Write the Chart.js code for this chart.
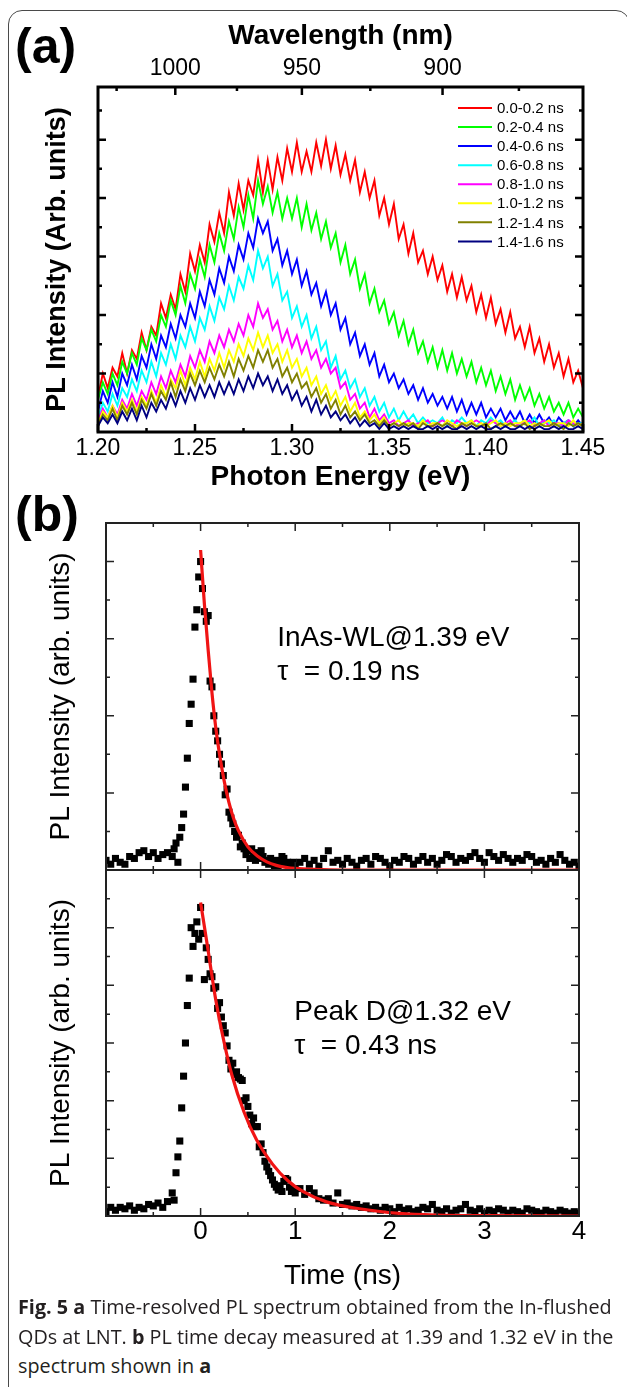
<!DOCTYPE html>
<html>
<head>
<meta charset="utf-8">
<script src="https://cdn.jsdelivr.net/npm/chart.js@4.4.1/dist/chart.umd.min.js"></script>
<style>
  html, body { margin: 0; padding: 0; background: #fff; }
  body { width: 627px; height: 1387px; position: relative; overflow: hidden;
         font-family: "Liberation Sans", Arial, sans-serif; }
  .frame { position: absolute; left: 8px; top: 10px; width: 622px; height: 1400px;
           border: 1.5px solid #4a4a4a; border-radius: 14px; box-sizing: border-box; }
  canvas { position: absolute; left: 0; }
  .tag { position: absolute; left: 15px; font-weight: bold; font-size: 50px; line-height: 50px; }
  .cap { position: absolute; left: 18px; font-family: "Open Sans", sans-serif; font-size: 19.8px;
         line-height: 29px; color: #231f20; white-space: nowrap; }
</style>
</head>
<body>
<div class="frame"></div>
<div class="tag" style="top:21px">(a)</div>
<div class="tag" style="top:489px">(b)</div>
<canvas id="specA" width="627" height="520" style="top:0px"></canvas>
<canvas id="decayWL" width="627" height="380" style="top:500px"></canvas>
<canvas id="decayD" width="627" height="440" style="top:860px"></canvas>
<div class="cap" style="top:1292px"><b>Fig. 5</b> <b>a</b> Time-resolved PL spectrum obtained from the In-flushed</div>
<div class="cap" style="top:1322px">QDs at LNT. <b>b</b> PL time decay measured at 1.39 and 1.32 eV in the</div>
<div class="cap" style="top:1351px">spectrum shown in <b>a</b></div>

<script>
// ---------- panel (a): time-resolved spectra ----------
const energy = [
  1.2000,1.2025,1.2050,1.2075,1.2100,1.2125,1.2150,1.2175,1.2200,1.2225,
  1.2250,1.2275,1.2300,1.2325,1.2350,1.2375,1.2400,1.2425,1.2450,1.2475,
  1.2500,1.2525,1.2550,1.2575,1.2600,1.2625,1.2650,1.2675,1.2700,1.2725,
  1.2750,1.2775,1.2800,1.2825,1.2850,1.2875,1.2900,1.2925,1.2950,1.2975,
  1.3000,1.3025,1.3050,1.3075,1.3100,1.3125,1.3150,1.3175,1.3200,1.3225,
  1.3250,1.3275,1.3300,1.3325,1.3350,1.3375,1.3400,1.3425,1.3450,1.3475,
  1.3500,1.3525,1.3550,1.3575,1.3600,1.3625,1.3650,1.3675,1.3700,1.3725,
  1.3750,1.3775,1.3800,1.3825,1.3850,1.3875,1.3900,1.3925,1.3950,1.3975,
  1.4000,1.4025,1.4050,1.4075,1.4100,1.4125,1.4150,1.4175,1.4200,1.4225,
  1.4250,1.4275,1.4300,1.4325,1.4350,1.4375,1.4400,1.4425,1.4450,1.4475,
  1.4500
];

const gateLabels = ['0.0-0.2 ns','0.2-0.4 ns','0.4-0.6 ns','0.6-0.8 ns',
                    '0.8-1.0 ns','1.0-1.2 ns','1.2-1.4 ns','1.4-1.6 ns'];
const gateColors = ['#ff0000','#00ff00','#0000ff','#00ffff',
                    '#ff00ff','#ffff00','#808000','#000080'];

const pl00 = [12,20,15,22,19,27,20,28,25,34, 28,36,33,44,39,47,42,54,48,61,
  55,64,58,71,65,75,68,82,74,85, 76,86,81,93,82,93,83,94,86,97,
  89,99,89,96,89,99,91,100,90,98, 88,95,86,93,82,89,80,86,74,80,
  71,78,66,71,61,68,58,62,54,60, 52,57,48,54,46,53,45,50,41,47,
  39,46,37,42,34,41,32,36,29,36, 27,32,24,30,22,27,19,25,17,21, 15];
const pl02 = [11,17,13,20,16,24,20,27,23,32, 28,35,31,40,36,45,40,50,44,54,
  49,59,53,64,58,68,62,72,66,77, 70,81,73,86,78,84,75,82,73,80,
  73,80,70,78,69,75,66,72,63,68, 58,64,54,59,49,54,44,49,41,45,
  37,41,33,38,30,35,27,31,24,29, 22,28,21,27,20,25,19,24,17,22,
  16,21,14,19,13,18,11,16,11,15, 9,13,8,12,7,10,6,10,5,8, 5];
const pl04 = [7,14,10,17,12,20,16,23,18,26, 22,30,25,33,29,37,32,40,36,44,
  39,48,43,52,47,56,51,60,55,64, 59,68,63,73,68,72,62,66,57,62,
  54,59,50,55,47,51,43,48,40,44, 35,39,30,34,26,30,23,27,19,23,
  17,20,15,18,13,16,11,15,10,13, 9,12,8,12,7,11,6,10,6,10,
  5,8,5,8,4,7,4,7,3,6, 3,6,3,5,2,5,3,4,2,4, 2];
const pl06 = [5,10,7,13,9,15,12,18,14,21, 17,24,19,27,23,30,25,33,29,36,
  31,39,35,43,38,46,42,50,45,53, 49,57,52,62,56,60,50,54,45,48,
  39,43,36,40,32,36,28,31,22,26, 18,21,15,18,12,15,9,12,7,10,
  5,8,4,7,4,6,3,5,3,4, 3,5,2,4,3,5,3,4,2,4,
  3,5,3,4,2,3,4,2,4,3, 5,2,4,3,4,2,3,4,2,3, 3];
const pl08 = [4,8,5,9,6,11,8,13,9,14, 11,17,13,19,15,21,17,23,19,26,
  22,28,24,31,27,33,29,35,31,37, 33,40,36,44,39,42,35,38,31,35,
  29,33,27,31,25,28,22,25,20,22, 15,17,11,13,8,10,5,8,4,6,
  3,4,2,3,4,2,3,3,4,2, 3,4,3,2,4,3,2,3,4,3,
  2,4,3,2,3,4,2,3,3,4, 2,3,4,2,3,3,2,4,3,2, 3];
const pl10 = [3,7,5,9,5,10,7,11,7,12, 9,14,10,16,12,18,15,21,16,22,
  18,24,19,25,21,27,22,28,24,30, 26,32,28,34,29,33,27,30,24,28,
  22,25,19,22,16,19,13,16,11,14, 9,12,7,10,5,7,4,6,3,5,
  2,3,4,2,3,3,2,4,2,3, 3,2,4,3,2,3,3,4,2,3,
  2,3,4,2,3,2,3,3,4,2, 3,2,3,4,2,3,3,2,4,2, 3];
const pl12 = [2,6,4,8,4,9,6,10,6,11, 8,13,9,14,11,17,12,18,14,20,
  16,21,17,22,18,23,19,24,19,25, 21,26,22,28,24,28,22,25,19,22,
  17,20,15,17,12,15,10,13,8,11, 6,9,5,7,4,6,3,4,2,4,
  2,3,2,3,2,3,1,3,2,2, 3,2,3,2,1,3,2,3,2,2,
  3,1,2,3,2,3,2,2,3,1, 2,3,2,2,3,2,1,3,2,3, 2];
const pl14 = [2,5,3,6,3,7,4,8,4,9, 5,10,7,11,8,13,9,14,10,15,
  11,16,12,16,12,17,13,17,13,18, 14,19,15,20,16,19,14,18,13,16,
  11,14,9,12,7,11,6,9,5,7, 4,6,3,5,2,4,2,3,1,3,
  1,2,1,2,1,2,1,1,2,1, 2,1,2,1,1,2,1,2,1,2,
  1,1,2,1,2,1,1,2,1,2, 1,2,1,1,2,1,2,1,1,2, 1];
const gateSpectra = [pl00, pl02, pl04, pl06, pl08, pl10, pl12, pl14];

const energyTicks = [1.20, 1.25, 1.30, 1.35, 1.40, 1.45];
const energyMinor = [1.225, 1.275, 1.325, 1.375, 1.425];
const wavelengthMajor = [1000, 950, 900];
const wavelengthMinor = [1025, 975, 925, 875];
const intensityMajor = [20, 40, 60, 80, 100];
const intensityMinor = [10, 30, 50, 70, 90, 110];

// ---------- panel (b): decay traces ----------
const timeNs = [
  -1.00,-0.95,-0.90,-0.85,-0.80,-0.75,-0.70,-0.65,-0.60,-0.55,-0.50,-0.45,-0.40,-0.35,
  -0.30,-0.28,-0.26,-0.24,-0.22,-0.20,-0.18,-0.16,-0.14,-0.12,-0.10,-0.08,-0.06,-0.04,-0.02,
  0.00,0.02,0.04,0.06,0.08,0.10,0.12,0.14,0.16,0.18,
  0.20,0.22,0.24,0.26,0.28,0.30,0.32,0.34,0.36,0.38,
  0.40,0.42,0.44,0.46,0.48,0.50,0.52,0.54,0.56,0.58,
  0.60,0.62,0.64,0.66,0.68,0.70,0.72,0.74,0.76,0.78,
  0.80,0.82,0.84,0.86,0.88,0.90,0.92,0.94,0.96,0.98,1.00,
  1.05,1.10,1.15,1.20,1.25,1.30,1.35,1.40,1.45,1.50,
  1.55,1.60,1.65,1.70,1.75,1.80,1.85,1.90,1.95,2.00,
  2.05,2.10,2.15,2.20,2.25,2.30,2.35,2.40,2.45,2.50,
  2.55,2.60,2.65,2.70,2.75,2.80,2.85,2.90,2.95,3.00,
  3.05,3.10,3.15,3.20,3.25,3.30,3.35,3.40,3.45,3.50,
  3.55,3.60,3.65,3.70,3.75,3.80,3.85,3.90,3.95,4.00
];
const decayWL = [
  0.25,0.15,0.3,0.2,0.15,0.35,0.3,0.45,0.5,0.35,0.45,0.3,0.4,0.45,
  0.35,0.55,0.7,0.2,0.85,1.1,1.45,2.15,2.9,3.8,4.3,4.95,6.3,6.75,7.6,
  8.0,7.3,6.7,6.45,6.6,4.9,4.75,4.0,3.6,3.35,
  3.0,2.75,2.45,1.95,2.1,1.5,1.35,1.2,1.0,0.85,
  0.9,0.6,0.7,0.55,0.4,0.5,0.3,0.55,0.35,0.25,
  0.45,0.3,0.5,0.35,0.2,0.25,0.15,0.3,0.2,0.1,
  0.25,0.1,0.2,0.35,0.3,0.15,0.2,0.1,0.15,0.2,0.1,
  0.2,0.3,0.15,0.25,0.1,0.3,0.5,0.2,0.25,0.15,
  0.3,0.2,0.1,0.25,0.3,0.15,0.35,0.3,0.2,0.1,
  0.25,0.2,0.35,0.3,0.15,0.25,0.35,0.2,0.3,0.15,
  0.25,0.4,0.35,0.2,0.3,0.25,0.35,0.45,0.3,0.2,
  0.45,0.35,0.25,0.4,0.3,0.2,0.3,0.25,0.4,0.35,
  0.2,0.25,0.15,0.3,0.2,0.4,0.25,0.15,0.2,0.1
];
const decayD = [
  0.15,0.3,0.2,0.3,0.25,0.35,0.2,0.3,0.25,0.4,0.35,0.45,0.3,0.5,
  0.8,0.55,1.5,2.05,2.6,3.75,4.85,6.0,7.3,8.25,10.0,9.35,9.8,10.2,9.6,
  10.7,9.8,8.2,9.3,8.9,8.4,8.3,7.9,7.95,7.2,
  7.4,6.9,6.6,6.35,5.9,5.4,5.1,5.3,4.9,5.0,
  4.8,4.75,4.7,4.0,4.1,3.8,3.5,3.2,3.4,3.1,
  3.1,2.4,2.5,2.2,1.9,1.7,1.55,1.4,1.25,1.1,
  1.0,0.9,1.05,0.85,1.2,1.3,1.25,1.0,0.85,0.95,0.8,
  0.95,0.75,0.95,0.8,0.6,0.55,0.6,0.45,0.8,0.4,
  0.45,0.35,0.4,0.3,0.35,0.25,0.3,0.2,0.3,0.25,
  0.15,0.3,0.2,0.25,0.15,0.2,0.3,0.25,0.4,0.2,
  0.15,0.25,0.1,0.2,0.25,0.4,0.2,0.15,0.25,0.1,
  0.2,0.15,0.25,0.2,0.1,0.2,0.15,0.1,0.25,0.2,
  0.15,0.1,0.2,0.15,0.1,0.2,0.15,0.1,0.15,0.1
];
// fitted single-exponential curves
const fitTimeWL = [0,0.04,0.08,0.12,0.16,0.2,0.25,0.3,0.35,0.4,0.5,0.6,0.7,0.8,0.9,1.0,1.2,1.5,2,3,4];
const fitWL     = [8.3,6.9,5.7,4.6,3.7,3.0,2.3,1.75,1.33,1.02,0.6,0.36,0.21,0.12,0.07,0.04,0.015,0,0,0,0];
const fitTimeD  = [0,0.08,0.16,0.25,0.33,0.46,0.59,0.76,0.92,1.08,1.33,1.68,2.1,2.5,3,4];
const fitD      = [10.87,9.2,7.5,6.0,4.9,3.6,2.65,1.8,1.23,0.85,0.49,0.25,0.09,0.03,0.01,0];

const timeTicks = [0, 1, 2, 3, 4];
const timeMinor = [-0.5, 0.5, 1.5, 2.5, 3.5];

const HC = 1239.84; // eV * nm, photon energy <-> wavelength

Chart.defaults.font.family = '"Liberation Sans", Arial, sans-serif';
Chart.defaults.color = '#000';

// inward ticks + box, drawn from the chart's own scales
const frameSpecs = {
  specA: { color: '#000', width: 3, tickWidth: 2.5, ticks: [
    { scale: 'x',  values: energyTicks, len: 8, sides: ['bottom'] },
    { scale: 'x',  values: energyMinor, len: 4, sides: ['bottom'] },
    { scale: 'x2', values: wavelengthMajor.map(w => HC / w), len: 8, sides: ['top'] },
    { scale: 'x2', values: wavelengthMinor.map(w => HC / w), len: 4, sides: ['top'] },
    { scale: 'y',  values: intensityMajor, len: 8, sides: ['left', 'right'] },
    { scale: 'y',  values: intensityMinor, len: 4, sides: ['left', 'right'] }
  ]},
  decayWL: { color: '#222', width: 2, tickWidth: 1.5, ticks: [
    { scale: 'x', values: timeTicks, len: 8, sides: ['top', 'bottom'] },
    { scale: 'x', values: timeMinor, len: 4, sides: ['top', 'bottom'] },
    { scale: 'y', values: [2, 4, 6, 8], len: 8, sides: ['left', 'right'] },
    { scale: 'y', values: [1, 3, 5, 7], len: 4, sides: ['left', 'right'] }
  ]},
  decayD: { color: '#222', width: 2, tickWidth: 1.5, ticks: [
    { scale: 'x', values: timeTicks, len: 8, sides: ['top', 'bottom'] },
    { scale: 'x', values: timeMinor, len: 4, sides: ['top', 'bottom'] },
    { scale: 'y', values: [2, 4, 6, 8, 10], len: 8, sides: ['left', 'right'] },
    { scale: 'y', values: [1, 3, 5, 7, 9, 11], len: 4, sides: ['left', 'right'] }
  ]}
};

const axisFrame = {
  id: 'axisFrame',
  afterDraw(chart) {
    const spec = frameSpecs[chart.canvas.id];
    if (!spec) return;
    const { ctx, chartArea: a } = chart;
    ctx.save();
    ctx.strokeStyle = spec.color;
    ctx.lineWidth = spec.tickWidth;
    for (const t of spec.ticks) {
      const s = chart.scales[t.scale];
      ctx.beginPath();
      for (const v of t.values) {
        const p = s.getPixelForValue(v);
        for (const side of t.sides) {
          if (side === 'top')    { ctx.moveTo(p, a.top);    ctx.lineTo(p, a.top + t.len); }
          if (side === 'bottom') { ctx.moveTo(p, a.bottom); ctx.lineTo(p, a.bottom - t.len); }
          if (side === 'left')   { ctx.moveTo(a.left, p);   ctx.lineTo(a.left + t.len, p); }
          if (side === 'right')  { ctx.moveTo(a.right, p);  ctx.lineTo(a.right - t.len, p); }
        }
      }
      ctx.stroke();
    }
    ctx.lineWidth = spec.width;
    ctx.strokeRect(a.left, a.top, a.right - a.left, a.bottom - a.top);
    ctx.restore();
  }
};

// legend inside panel (a), upper right
const gateLegend = {
  id: 'gateLegend',
  afterDatasetsDraw(chart) {
    if (chart.canvas.id !== 'specA') return;
    const { ctx, chartArea: a } = chart;
    ctx.save();
    ctx.font = '15px "Liberation Sans", Arial, sans-serif';
    ctx.textBaseline = 'middle';
    ctx.fillStyle = '#000';
    chart.data.datasets.forEach((ds, k) => {
      const y = a.top + 21 + k * 19.06;
      ctx.strokeStyle = ds.borderColor;
      ctx.lineWidth = 2;
      ctx.beginPath();
      ctx.moveTo(a.right - 125, y);
      ctx.lineTo(a.right - 91, y);
      ctx.stroke();
      ctx.fillText(ds.label, a.right - 86, y + 1);
    });
    ctx.restore();
  }
};

// text notes placed in data coordinates
const notes = {
  decayWL: [{ x: 0.81, y: 6.0, text: 'InAs-WL@1.39 eV' }, { x: 0.81, y: 5.13, text: '\u03c4  = 0.19 ns' }],
  decayD:  [{ x: 0.99, y: 7.05, text: 'Peak D@1.32 eV' }, { x: 0.99, y: 5.87, text: '\u03c4  = 0.43 ns' }]
};
const noteText = {
  id: 'noteText',
  afterDraw(chart) {
    const list = notes[chart.canvas.id];
    if (!list) return;
    const { ctx, scales } = chart;
    ctx.save();
    ctx.font = '28px "Liberation Sans", Arial, sans-serif';
    ctx.textBaseline = 'middle';
    ctx.fillStyle = '#000';
    for (const n of list) ctx.fillText(n.text, scales.x.getPixelForValue(n.x), scales.y.getPixelForValue(n.y));
    ctx.restore();
  }
};

Chart.register(axisFrame, gateLegend, noteText);

const noGrid = { display: false, drawTicks: false };

new Chart(document.getElementById('specA'), {
  type: 'line',
  data: {
    datasets: gateSpectra.map((vals, k) => ({
      label: gateLabels[k],
      data: energy.map((e, i) => ({ x: e, y: vals[i] })),
      borderColor: gateColors[k],
      borderWidth: 1.9,
      pointRadius: 0,
      order: 8 - k
    }))
  },
  options: {
    responsive: false, animation: false, events: [],
    layout: { padding: { left: 0, right: 44, top: 0, bottom: 20 } },
    plugins: { legend: { display: false }, tooltip: { enabled: false } },
    scales: {
      x: {
        type: 'linear', position: 'bottom', min: 1.2, max: 1.45,
        grid: noGrid, border: { display: false },
        afterBuildTicks: s => { s.ticks = energyTicks.map(v => ({ value: v })); },
        ticks: { font: { size: 23 }, padding: 3, maxRotation: 0, autoSkip: false,
                 callback: v => v.toFixed(2) },
        title: { display: true, text: 'Photon Energy (eV)', font: { size: 28, weight: 'bold' },
                 padding: { top: 0, bottom: 6 } },
        afterFit: s => { s.height = 68; }
      },
      x2: {
        type: 'linear', position: 'top', min: 1.2, max: 1.45,
        grid: noGrid, border: { display: false },
        afterBuildTicks: s => { s.ticks = wavelengthMajor.map(w => ({ value: HC / w })); },
        ticks: { font: { size: 23 }, padding: 5, maxRotation: 0, autoSkip: false,
                 callback: v => String(Math.round(HC / v)) },
        title: { display: true, text: 'Wavelength (nm)', font: { size: 28, weight: 'bold' },
                 padding: { top: 19, bottom: 0 } },
        afterFit: s => { s.height = 87; }
      },
      y: {
        position: 'left', min: 0, max: 118,
        grid: noGrid, border: { display: false }, ticks: { display: false },
        title: { display: true, text: 'PL Intensity (Arb. units)', font: { size: 27, weight: 'bold' },
                 padding: { top: 41, bottom: 0 } },
        afterFit: s => { s.width = 98; }
      }
    }
  }
});

function decayChart(id, values, fitT, fitV, yMax, pad, showX) {
  return new Chart(document.getElementById(id), {
    type: 'scatter',
    data: {
      datasets: [
        { data: fitT.map((t, i) => ({ x: t, y: fitV[i] })), showLine: true, pointRadius: 0,
          borderColor: '#f01414', borderWidth: 3.2, cubicInterpolationMode: 'monotone', order: 0 },
        { data: timeNs.map((t, i) => ({ x: t, y: values[i] })), pointStyle: 'rect', pointRadius: 5,
          backgroundColor: '#000', borderWidth: 0, order: 1 }
      ]
    },
    options: {
      responsive: false, animation: false, events: [],
      layout: { padding: pad },
      plugins: { legend: { display: false }, tooltip: { enabled: false } },
      scales: {
        x: {
          type: 'linear', position: 'bottom', min: -1, max: 4, display: showX,
          grid: noGrid, border: { display: false },
          afterBuildTicks: s => { s.ticks = timeTicks.map(v => ({ value: v })); },
          ticks: { font: { size: 26 }, padding: 0, maxRotation: 0, autoSkip: false },
          title: { display: true, text: 'Time (ns)', font: { size: 28 }, padding: { top: 0, bottom: 7 } },
          afterFit: s => { s.height = showX ? 84 : 0; }
        },
        y: {
          min: 0, max: yMax,
          grid: noGrid, border: { display: false }, ticks: { display: false },
          title: { display: true, text: 'PL Intensity (arb. units)', font: { size: 28 },
                   padding: { top: 44, bottom: 0 } },
          afterFit: s => { s.width = 106; }
        }
      }
    }
  });
}

decayChart('decayWL', decayWL, fitTimeWL, fitWL, 9, { left: 0, right: 48, top: 23, bottom: 10 }, false);
decayChart('decayD', decayD, fitTimeD, fitD, 12, { left: 0, right: 48, top: 10, bottom: 0 }, true);
</script>
</body>
</html>
